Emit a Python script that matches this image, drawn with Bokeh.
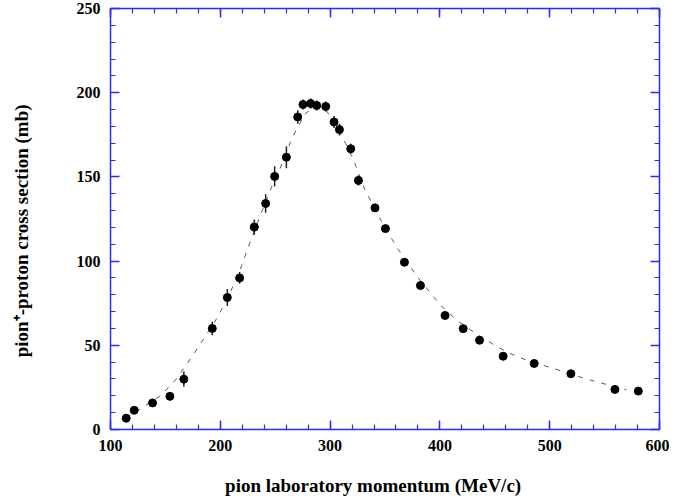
from bokeh.plotting import figure
from bokeh.models import Range1d, LinearAxis, FixedTicker, CustomJSTickFormatter
from bokeh.embed import file_html
from bokeh.resources import INLINE

# measured data: pion laboratory momentum (MeV/c), cross section (mb), error (mb)
momentum = [114.3, 121.6, 138.3, 154.1, 166.8, 192.7, 206.4, 217.6, 231.0, 241.3,
            249.5, 260.2, 270.5, 275.3, 282.3, 287.8, 296.0, 303.6, 308.5, 318.8,
            325.8, 340.9, 350.4, 367.7, 382.3, 404.7, 421.2, 436.1, 457.6, 485.9,
            519.3, 559.4, 580.7]
cross_section = [6.7, 11.4, 15.8, 19.7, 29.9, 60.0, 78.4, 90.0, 120.2, 134.2,
                 150.3, 161.7, 185.6, 193.0, 193.6, 192.4, 191.8, 182.6, 178.1, 166.7,
                 147.9, 131.6, 119.3, 99.3, 85.5, 67.7, 59.9, 53.0, 43.5, 39.2,
                 33.1, 23.8, 22.8]
errors = [1.5, 1.5, 2.0, 2.5, 4.5, 4.0, 5.0, 3.5, 4.5, 5.5,
          6.0, 6.5, 4.0, 3.0, 3.0, 3.0, 3.0, 3.5, 3.5, 3.0,
          3.0, 2.5, 2.0, 2.0, 2.0, 2.0, 2.0, 2.0, 1.5, 2.0,
          1.5, 2.0, 1.5]

# fitted curve
curve_x = [114, 129, 146, 160, 175, 185, 195, 206, 217, 227, 238, 247, 254, 264, 270,
           278, 287, 297, 307, 314, 322, 331, 345, 361, 380, 401, 416, 435, 453, 465,
           478, 504, 530, 544, 570]
curve_y = [6.7, 13.0, 20.3, 30.0, 44.0, 54.0, 64.0, 77.0, 93.0, 111.0, 129.6, 144.4, 154.3,
           171.0, 179.0, 188.0, 191.7, 189.0, 179.0, 170.0, 159.0, 143.4, 125.7, 107.9,
           90.2, 73.5, 64.6, 56.0, 48.8, 44.9, 41.4, 36.1, 30.7, 28.1, 23.6]

x_ticks = [100, 200, 300, 400, 500, 600]
y_ticks = [0, 50, 100, 150, 200, 250]
x_minor = list(range(100, 601, 20))
y_minor = list(range(0, 251, 10))

BLUE = "#2a2aff"
FONT = "Liberation Serif"

p = figure(width=669, height=498, output_backend="svg", toolbar_location=None,
           x_range=Range1d(100, 600), y_range=Range1d(0, 250),
           x_axis_label="pion  laboratory  momentum    (MeV/c)",
           y_axis_label="pion\u207a-proton  cross  section    (mb)",
           min_border_left=110, min_border_right=10, min_border_top=8,
           min_border_bottom=69)
p.outline_line_color = None
p.xgrid.visible = False
p.ygrid.visible = False

def style_axis(ax, ticks, minor, labels=True):
    ax.ticker = FixedTicker(ticks=ticks, minor_ticks=minor)
    ax.axis_line_color = BLUE
    ax.axis_line_width = 1.5
    ax.major_tick_line_color = BLUE
    ax.minor_tick_line_color = BLUE
    ax.major_tick_line_width = 1.5
    ax.minor_tick_line_width = 1.2
    ax.major_tick_in = 9
    ax.major_tick_out = 0
    ax.minor_tick_in = 5
    ax.minor_tick_out = 0
    if labels:
        ax.major_label_text_font = FONT
        ax.major_label_text_font_style = "bold"
        ax.major_label_text_font_size = "16px"
        ax.major_label_text_color = "black"
        ax.major_label_standoff = 10
        ax.axis_label_text_font = FONT
        ax.axis_label_text_font_style = "bold"
        ax.axis_label_text_font_size = "19px"
        ax.axis_label_text_color = "black"
    else:
        ax.formatter = CustomJSTickFormatter(code="return ''")
        ax.major_label_text_font_size = "0px"
        ax.major_label_standoff = 0

style_axis(p.xaxis[0], x_ticks, x_minor)
style_axis(p.yaxis[0], y_ticks, y_minor)
p.xaxis[0].axis_label_standoff = 21
p.yaxis[0].axis_label_standoff = 42

top = LinearAxis()
right = LinearAxis()
style_axis(top, x_ticks, x_minor, labels=False)
style_axis(right, y_ticks, y_minor, labels=False)
p.add_layout(top, "above")
p.add_layout(right, "right")

p.line(curve_x, curve_y, line_color="#5a5a5a", line_width=1, line_dash="5 7")

lo = [c - e for c, e in zip(cross_section, errors)]
hi = [c + e for c, e in zip(cross_section, errors)]
p.segment(x0=momentum, y0=lo, x1=momentum, y1=hi, line_color="#222222", line_width=1.5)
p.scatter(momentum, cross_section, size=8, fill_color="black", line_color="black")

open("out.html", "w").write(file_html(p, INLINE))
